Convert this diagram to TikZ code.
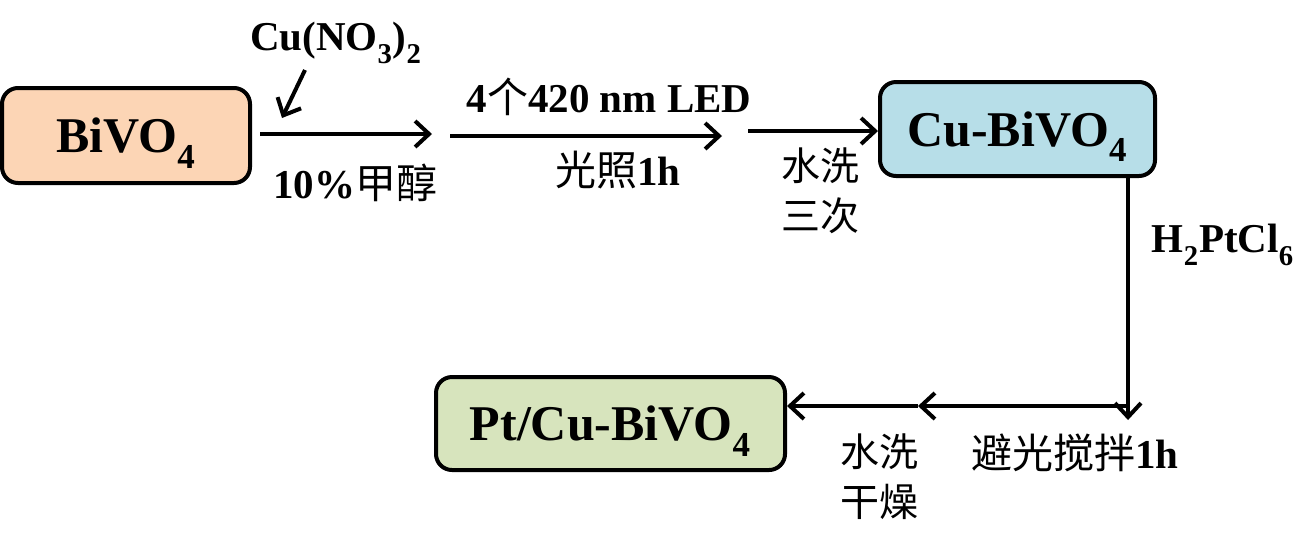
\documentclass[tikz,border=0pt]{standalone}
\usepackage{fontspec}
\setmainfont{Liberation Serif}
\newfontfamily\cjk{Noto Sans CJK SC}
\usetikzlibrary{arrows.meta}
\definecolor{peach}{HTML}{FCD5B5}
\definecolor{lightblue}{HTML}{B7DEE8}
\definecolor{lightgreen}{HTML}{D7E4BD}
\newcommand{\lowsub}[1]{\raisebox{-0.35ex}{\textsubscript{#1}}}
\begin{document}
\begin{tikzpicture}[x=0.5pt,y=-0.5pt,
  box/.style={draw=black, line width=2pt, rounded corners=8pt, inner sep=0pt, text depth=0pt,
    font=\fontsize{25}{30}\selectfont\bfseries},
  lbl/.style={inner sep=0pt, font=\fontsize{20.5}{25}\selectfont\bfseries, align=center},
  cjklbl/.style={inner sep=0pt, font=\fontsize{19.5}{25}\selectfont\cjk, align=center},
  arr/.style={line width=2pt, -{Straight Barb[length=7pt,width=13pt,line width=2pt]}}]
\useasboundingbox (0,0) rectangle (1309,537);
% boxes
\node[box, fill=peach, minimum width=124pt, minimum height=47.5pt] (bivo) at (126,135.5) {BiVO\lowsub{4}};
\node[box, fill=lightblue, minimum width=137.5pt, minimum height=47pt] (cubivo) at (1017.5,129) {Cu-BiVO\lowsub{4}};
\node[box, fill=lightgreen, minimum width=174.5pt, minimum height=46.5pt] (ptcu) at (610.5,423.5) {Pt/Cu-BiVO\lowsub{4}};
% coordinates
\coordinate (a1s) at (260,134);
\coordinate (a1e) at (432,134);
\coordinate (a2s) at (450,136);
\coordinate (a2e) at (722,136);
\coordinate (a3s) at (748,131);
\coordinate (cs) at (305,70);
\coordinate (ce) at (282,118);
\coordinate (vs) at (1128,174);
\coordinate (ve) at (1128,420);
\coordinate (hs) at (1130,406);
\coordinate (he) at (918,406);
\coordinate (h2s) at (918,406);
% arrows
\draw[arr] (a1s) -- (a1e);
\draw[arr] (cs) -- (ce);
\draw[arr] (a2s) -- (a2e);
\draw[arr] (a3s) -- (cubivo.west |- a3s);
\draw[arr] (vs) -- (ve);
\draw[arr] (hs) -- (he);
\draw[arr] (h2s) -- (ptcu.east |- h2s);
% labels
\node[lbl] (cuno) at (336,43) {Cu(NO\lowsub{3})\lowsub{2}};
\node[lbl] (meoh) at (355,183) {10\%{\mdseries\cjk 甲醇}};
\node[lbl] (led) at (609,97) {4{\mdseries\cjk 个}420 nm LED};
\node[lbl] (light) at (618,170) {{\mdseries\cjk 光照}1h};
\node[cjklbl] (wash1) at (820,191) {水洗\\三次};
\node[lbl] (h2pt) at (1223,245) {H\lowsub{2}PtCl\lowsub{6}};
\node[cjklbl] (wash2) at (879,477) {水洗\\干燥};
\node[lbl] (stir) at (1075,453) {{\mdseries\cjk 避光搅拌}1h};
\end{tikzpicture}
\end{document}
